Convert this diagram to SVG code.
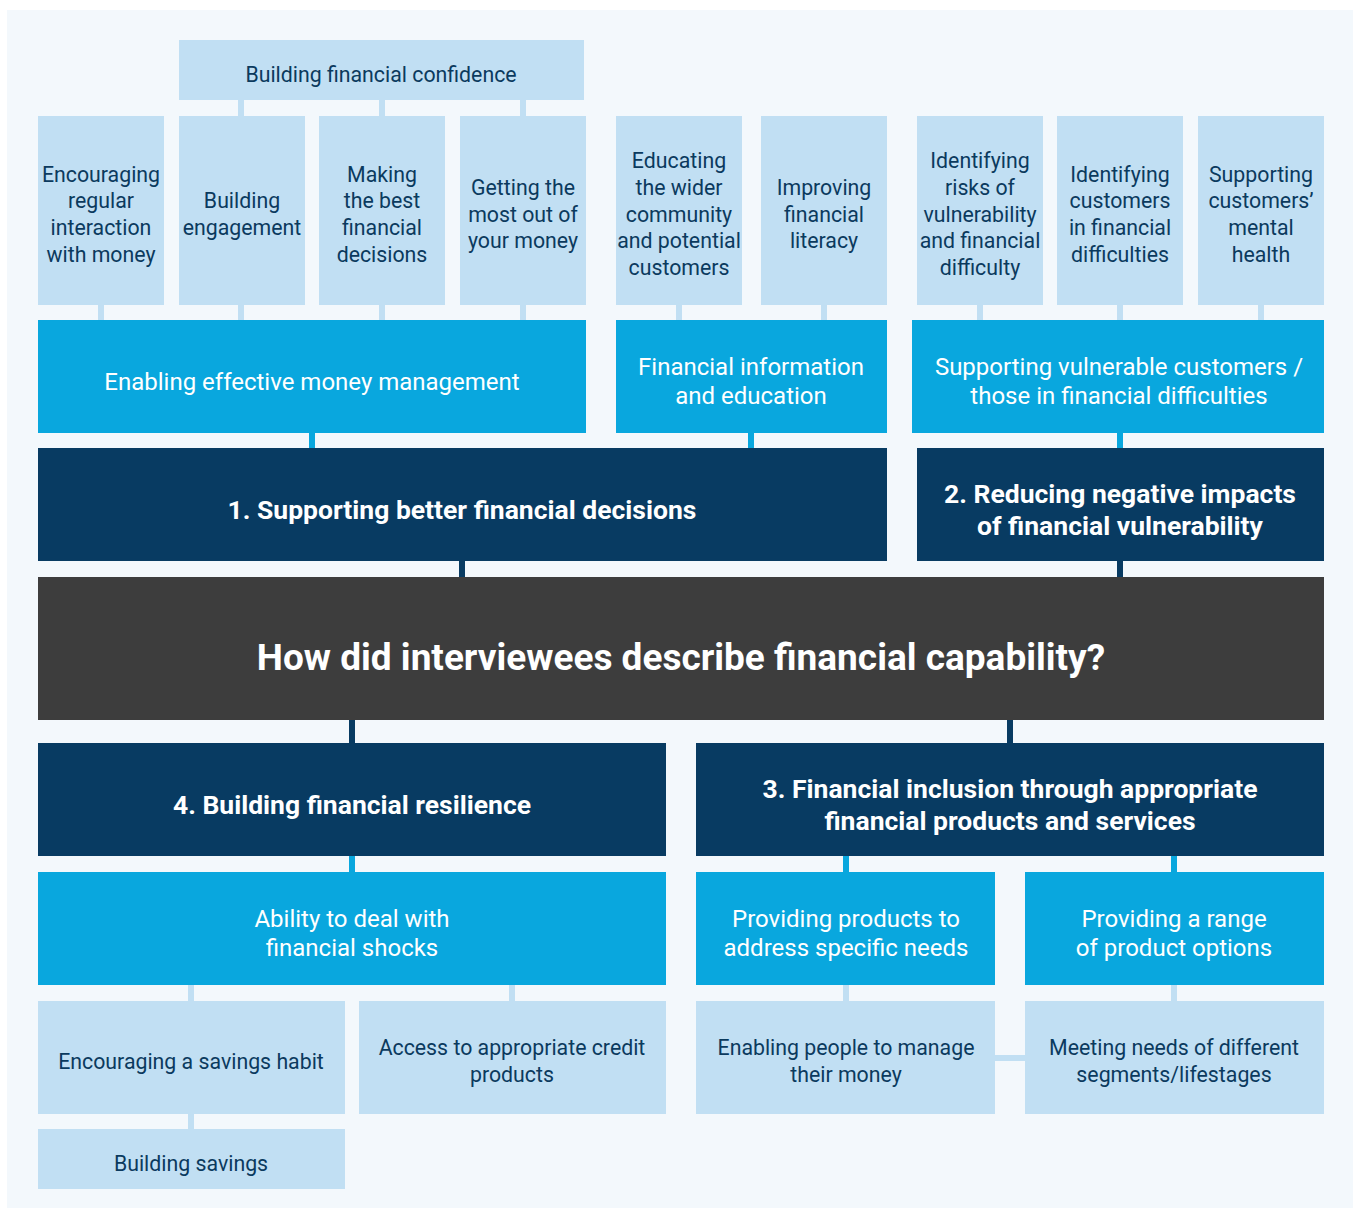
<svg xmlns="http://www.w3.org/2000/svg" width="1357" height="1211" viewBox="0 0 1357 1211">
<style>
.bg{fill:#f3f8fc}
.lt{fill:#c1dff3}
.md{fill:#09a7de}
.dk{fill:#083b62}
.ct{fill:#3d3d3d}
.cl{stroke:#c1dff3;stroke-width:6;fill:none}
.cm{stroke:#09a7de;stroke-width:6;fill:none}
.cd{stroke:#083b62;stroke-width:6;fill:none}
text{font-family:Roboto,"Noto Sans","Liberation Sans",sans-serif;text-anchor:middle}
.tl{font-size:21.3px;fill:#0b3a5e}
.tm{font-size:24px;fill:#ffffff}
.td{font-size:26.5px;font-weight:bold;fill:#ffffff}
.tc{font-size:37px;font-weight:bold;fill:#ffffff}
</style>
<rect x="0" y="0" width="1357" height="1211" fill="#ffffff"/>
<rect class="bg" x="7" y="10" width="1346" height="1198"/>
<g id="connectors">
<path class="cl" d="M241 100V116M382 100V116M523 100V116"/>
<path class="cl" d="M101 305V320M241 305V320M382 305V320M523 305V320M679 305V320M824 305V320M980 305V320M1120 305V320M1261 305V320"/>
<path class="cm" d="M312 433V448M751 433V448M1120 433V448"/>
<path class="cd" d="M462 561V577M1120 561V577"/>
<path class="cd" d="M352 720V743M1010 720V743"/>
<path class="cm" d="M352 856V872M846 856V872M1174 856V872"/>
<path class="cl" d="M191 985V1001M512 985V1001M846 985V1001M1174 985V1001"/>
<path class="cl" d="M191 1114V1129M995 1058H1025"/>
</g>
<g id="n-confidence"><rect class="lt" x="179" y="40" width="405" height="60"/><text class="tl" x="381" y="82">Building financial confidence</text></g>
<g id="n-encouraging"><rect class="lt" x="38" y="116" width="126" height="189"/><text class="tl" x="101" y="182">Encouraging</text><text class="tl" x="101" y="208">regular</text><text class="tl" x="101" y="235">interaction</text><text class="tl" x="101" y="262">with money</text></g>
<g id="n-engagement"><rect class="lt" x="179" y="116" width="126" height="189"/><text class="tl" x="242" y="208">Building</text><text class="tl" x="242" y="235">engagement</text></g>
<g id="n-making"><rect class="lt" x="319" y="116" width="126" height="189"/><text class="tl" x="382" y="182">Making</text><text class="tl" x="382" y="208">the best</text><text class="tl" x="382" y="235">financial</text><text class="tl" x="382" y="262">decisions</text></g>
<g id="n-getting"><rect class="lt" x="460" y="116" width="126" height="189"/><text class="tl" x="523" y="195">Getting the</text><text class="tl" x="523" y="222">most out of</text><text class="tl" x="523" y="248">your money</text></g>
<g id="n-educating"><rect class="lt" x="616" y="116" width="126" height="189"/><text class="tl" x="679" y="168">Educating</text><text class="tl" x="679" y="195">the wider</text><text class="tl" x="679" y="222">community</text><text class="tl" x="679" y="248">and potential</text><text class="tl" x="679" y="275">customers</text></g>
<g id="n-literacy"><rect class="lt" x="761" y="116" width="126" height="189"/><text class="tl" x="824" y="195">Improving</text><text class="tl" x="824" y="222">financial</text><text class="tl" x="824" y="248">literacy</text></g>
<g id="n-risks"><rect class="lt" x="917" y="116" width="126" height="189"/><text class="tl" x="980" y="168">Identifying</text><text class="tl" x="980" y="195">risks of</text><text class="tl" x="980" y="222">vulnerability</text><text class="tl" x="980" y="248">and financial</text><text class="tl" x="980" y="275">difficulty</text></g>
<g id="n-identifying"><rect class="lt" x="1057" y="116" width="126" height="189"/><text class="tl" x="1120" y="182">Identifying</text><text class="tl" x="1120" y="208">customers</text><text class="tl" x="1120" y="235">in financial</text><text class="tl" x="1120" y="262">difficulties</text></g>
<g id="n-mental"><rect class="lt" x="1198" y="116" width="126" height="189"/><text class="tl" x="1261" y="182">Supporting</text><text class="tl" x="1261" y="208">customers’</text><text class="tl" x="1261" y="235">mental</text><text class="tl" x="1261" y="262">health</text></g>
<g id="n-money-mgmt"><rect class="md" x="38" y="320" width="548" height="113"/><text class="tm" x="312" y="390">Enabling effective money management</text></g>
<g id="n-info"><rect class="md" x="616" y="320" width="271" height="113"/><text class="tm" x="751" y="375">Financial information</text><text class="tm" x="751" y="404">and education</text></g>
<g id="n-vulnerable"><rect class="md" x="912" y="320" width="412" height="113"/><text class="tm" x="1119" y="375">Supporting vulnerable customers /</text><text class="tm" x="1119" y="404">those in financial difficulties</text></g>
<g id="n-1"><rect class="dk" x="38" y="448" width="849" height="113"/><text class="td" x="462" y="519">1. Supporting better financial decisions</text></g>
<g id="n-2"><rect class="dk" x="917" y="448" width="407" height="113"/><text class="td" x="1120" y="503">2. Reducing negative impacts</text><text class="td" x="1120" y="535">of financial vulnerability</text></g>
<g id="n-center"><rect class="ct" x="38" y="577" width="1286" height="143"/><text class="tc" x="681" y="670">How did interviewees describe financial capability?</text></g>
<g id="n-4"><rect class="dk" x="38" y="743" width="628" height="113"/><text class="td" x="352" y="814">4. Building financial resilience</text></g>
<g id="n-3"><rect class="dk" x="696" y="743" width="628" height="113"/><text class="td" x="1010" y="798">3. Financial inclusion through appropriate</text><text class="td" x="1010" y="830">financial products and services</text></g>
<g id="n-shocks"><rect class="md" x="38" y="872" width="628" height="113"/><text class="tm" x="352" y="927">Ability to deal with</text><text class="tm" x="352" y="956">financial shocks</text></g>
<g id="n-specific"><rect class="md" x="696" y="872" width="299" height="113"/><text class="tm" x="846" y="927">Providing products to</text><text class="tm" x="846" y="956">address specific needs</text></g>
<g id="n-range"><rect class="md" x="1025" y="872" width="299" height="113"/><text class="tm" x="1174" y="927">Providing a range</text><text class="tm" x="1174" y="956">of product options</text></g>
<g id="n-savings-habit"><rect class="lt" x="38" y="1001" width="307" height="113"/><text class="tl" x="191" y="1069">Encouraging a savings habit</text></g>
<g id="n-credit"><rect class="lt" x="359" y="1001" width="307" height="113"/><text class="tl" x="512" y="1055">Access to appropriate credit</text><text class="tl" x="512" y="1082">products</text></g>
<g id="n-enabling"><rect class="lt" x="696" y="1001" width="299" height="113"/><text class="tl" x="846" y="1055">Enabling people to manage</text><text class="tl" x="846" y="1082">their money</text></g>
<g id="n-segments"><rect class="lt" x="1025" y="1001" width="299" height="113"/><text class="tl" x="1174" y="1055">Meeting needs of different</text><text class="tl" x="1174" y="1082">segments/lifestages</text></g>
<g id="n-building-savings"><rect class="lt" x="38" y="1129" width="307" height="60"/><text class="tl" x="191" y="1171">Building savings</text></g>
</svg>
